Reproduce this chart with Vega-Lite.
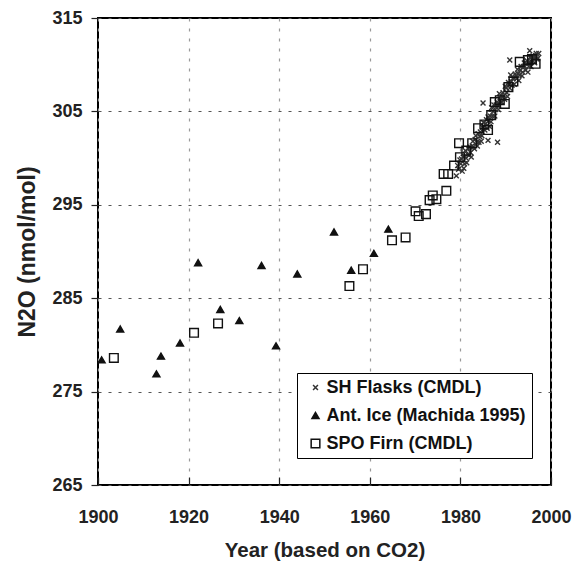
{
  "$schema": "https://vega.github.io/schema/vega-lite/v6.json",
  "width": 453,
  "height": 467,
  "autosize": {"type": "none"},
  "padding": {"left": 98, "top": 18, "right": 21, "bottom": 80},
  "background": "white",
  "config": {
    "view": {"stroke": "black", "strokeWidth": 2},
    "font": "Liberation Sans",
    "axis": {
      "labelFont": "Liberation Sans",
      "labelFontWeight": "bold",
      "labelFontSize": 18,
      "labelColor": "#222",
      "labelFlush": false,
      "titleFont": "Liberation Sans",
      "titleFontWeight": "bold",
      "titleColor": "#222",
      "domain": false,
      "tickColor": "#222",
      "tickWidth": 1.2
    },
    "legend": {
      "labelFont": "Liberation Sans",
      "labelFontWeight": "bold",
      "labelFontSize": 18,
      "labelColor": "#111",
      "labelLimit": 400
    }
  },
  "data": {
    "values": [
      {"series": "SH Flasks (CMDL)", "year": 1979.1, "n2o": 298.1},
      {"series": "SH Flasks (CMDL)", "year": 1979.4, "n2o": 299.2},
      {"series": "SH Flasks (CMDL)", "year": 1979.6, "n2o": 298.8},
      {"series": "SH Flasks (CMDL)", "year": 1979.9, "n2o": 299.8},
      {"series": "SH Flasks (CMDL)", "year": 1980.1, "n2o": 299.4},
      {"series": "SH Flasks (CMDL)", "year": 1980.25, "n2o": 299.9},
      {"series": "SH Flasks (CMDL)", "year": 1980.4, "n2o": 298.6},
      {"series": "SH Flasks (CMDL)", "year": 1980.6, "n2o": 300.1},
      {"series": "SH Flasks (CMDL)", "year": 1980.75, "n2o": 298.9},
      {"series": "SH Flasks (CMDL)", "year": 1980.9, "n2o": 299.4},
      {"series": "SH Flasks (CMDL)", "year": 1981.1, "n2o": 300.8},
      {"series": "SH Flasks (CMDL)", "year": 1981.25, "n2o": 300.0},
      {"series": "SH Flasks (CMDL)", "year": 1981.4, "n2o": 299.5},
      {"series": "SH Flasks (CMDL)", "year": 1981.6, "n2o": 300.4},
      {"series": "SH Flasks (CMDL)", "year": 1981.75, "n2o": 301.0},
      {"series": "SH Flasks (CMDL)", "year": 1981.9, "n2o": 300.3},
      {"series": "SH Flasks (CMDL)", "year": 1982.1, "n2o": 301.2},
      {"series": "SH Flasks (CMDL)", "year": 1982.25, "n2o": 300.6},
      {"series": "SH Flasks (CMDL)", "year": 1982.4, "n2o": 300.1},
      {"series": "SH Flasks (CMDL)", "year": 1982.6, "n2o": 301.3},
      {"series": "SH Flasks (CMDL)", "year": 1982.75, "n2o": 301.8},
      {"series": "SH Flasks (CMDL)", "year": 1982.9, "n2o": 301.2},
      {"series": "SH Flasks (CMDL)", "year": 1983.1, "n2o": 301.0},
      {"series": "SH Flasks (CMDL)", "year": 1983.25, "n2o": 302.0},
      {"series": "SH Flasks (CMDL)", "year": 1983.4, "n2o": 302.4},
      {"series": "SH Flasks (CMDL)", "year": 1983.6, "n2o": 301.7},
      {"series": "SH Flasks (CMDL)", "year": 1983.75, "n2o": 301.3},
      {"series": "SH Flasks (CMDL)", "year": 1983.9, "n2o": 302.6},
      {"series": "SH Flasks (CMDL)", "year": 1984.1, "n2o": 301.7},
      {"series": "SH Flasks (CMDL)", "year": 1984.25, "n2o": 302.3},
      {"series": "SH Flasks (CMDL)", "year": 1984.4, "n2o": 302.8},
      {"series": "SH Flasks (CMDL)", "year": 1984.6, "n2o": 301.8},
      {"series": "SH Flasks (CMDL)", "year": 1984.75, "n2o": 302.4},
      {"series": "SH Flasks (CMDL)", "year": 1984.9, "n2o": 303.3},
      {"series": "SH Flasks (CMDL)", "year": 1985.1, "n2o": 303.8},
      {"series": "SH Flasks (CMDL)", "year": 1985.25, "n2o": 303.4},
      {"series": "SH Flasks (CMDL)", "year": 1985.4, "n2o": 303.0},
      {"series": "SH Flasks (CMDL)", "year": 1985.6, "n2o": 303.7},
      {"series": "SH Flasks (CMDL)", "year": 1985.75, "n2o": 304.1},
      {"series": "SH Flasks (CMDL)", "year": 1985.9, "n2o": 303.2},
      {"series": "SH Flasks (CMDL)", "year": 1986.1, "n2o": 304.4},
      {"series": "SH Flasks (CMDL)", "year": 1986.25, "n2o": 304.0},
      {"series": "SH Flasks (CMDL)", "year": 1986.4, "n2o": 303.4},
      {"series": "SH Flasks (CMDL)", "year": 1986.6, "n2o": 304.5},
      {"series": "SH Flasks (CMDL)", "year": 1986.75, "n2o": 303.9},
      {"series": "SH Flasks (CMDL)", "year": 1986.9, "n2o": 305.4},
      {"series": "SH Flasks (CMDL)", "year": 1987.1, "n2o": 304.5},
      {"series": "SH Flasks (CMDL)", "year": 1987.25, "n2o": 305.0},
      {"series": "SH Flasks (CMDL)", "year": 1987.4, "n2o": 305.7},
      {"series": "SH Flasks (CMDL)", "year": 1987.6, "n2o": 304.5},
      {"series": "SH Flasks (CMDL)", "year": 1987.75, "n2o": 305.2},
      {"series": "SH Flasks (CMDL)", "year": 1987.9, "n2o": 305.7},
      {"series": "SH Flasks (CMDL)", "year": 1988.1, "n2o": 306.0},
      {"series": "SH Flasks (CMDL)", "year": 1988.25, "n2o": 305.6},
      {"series": "SH Flasks (CMDL)", "year": 1988.4, "n2o": 305.2},
      {"series": "SH Flasks (CMDL)", "year": 1988.6, "n2o": 306.9},
      {"series": "SH Flasks (CMDL)", "year": 1988.75, "n2o": 306.5},
      {"series": "SH Flasks (CMDL)", "year": 1988.9, "n2o": 306.0},
      {"series": "SH Flasks (CMDL)", "year": 1989.1, "n2o": 306.0},
      {"series": "SH Flasks (CMDL)", "year": 1989.25, "n2o": 306.5},
      {"series": "SH Flasks (CMDL)", "year": 1989.4, "n2o": 307.0},
      {"series": "SH Flasks (CMDL)", "year": 1989.6, "n2o": 306.7},
      {"series": "SH Flasks (CMDL)", "year": 1989.75, "n2o": 306.3},
      {"series": "SH Flasks (CMDL)", "year": 1989.9, "n2o": 307.7},
      {"series": "SH Flasks (CMDL)", "year": 1990.1, "n2o": 307.5},
      {"series": "SH Flasks (CMDL)", "year": 1990.25, "n2o": 307.0},
      {"series": "SH Flasks (CMDL)", "year": 1990.4, "n2o": 306.6},
      {"series": "SH Flasks (CMDL)", "year": 1990.6, "n2o": 308.1},
      {"series": "SH Flasks (CMDL)", "year": 1990.75, "n2o": 307.9},
      {"series": "SH Flasks (CMDL)", "year": 1990.9, "n2o": 307.5},
      {"series": "SH Flasks (CMDL)", "year": 1991.1, "n2o": 308.9},
      {"series": "SH Flasks (CMDL)", "year": 1991.25, "n2o": 308.2},
      {"series": "SH Flasks (CMDL)", "year": 1991.4, "n2o": 307.8},
      {"series": "SH Flasks (CMDL)", "year": 1991.6, "n2o": 308.5},
      {"series": "SH Flasks (CMDL)", "year": 1991.75, "n2o": 308.6},
      {"series": "SH Flasks (CMDL)", "year": 1991.9, "n2o": 307.9},
      {"series": "SH Flasks (CMDL)", "year": 1992.1, "n2o": 309.0},
      {"series": "SH Flasks (CMDL)", "year": 1992.25, "n2o": 308.8},
      {"series": "SH Flasks (CMDL)", "year": 1992.4, "n2o": 308.5},
      {"series": "SH Flasks (CMDL)", "year": 1992.6, "n2o": 309.5},
      {"series": "SH Flasks (CMDL)", "year": 1992.75, "n2o": 309.0},
      {"series": "SH Flasks (CMDL)", "year": 1992.9, "n2o": 308.3},
      {"series": "SH Flasks (CMDL)", "year": 1993.1, "n2o": 308.9},
      {"series": "SH Flasks (CMDL)", "year": 1993.25, "n2o": 309.4},
      {"series": "SH Flasks (CMDL)", "year": 1993.4, "n2o": 309.8},
      {"series": "SH Flasks (CMDL)", "year": 1993.6, "n2o": 308.8},
      {"series": "SH Flasks (CMDL)", "year": 1993.75, "n2o": 309.2},
      {"series": "SH Flasks (CMDL)", "year": 1993.9, "n2o": 309.8},
      {"series": "SH Flasks (CMDL)", "year": 1994.1, "n2o": 310.2},
      {"series": "SH Flasks (CMDL)", "year": 1994.25, "n2o": 309.8},
      {"series": "SH Flasks (CMDL)", "year": 1994.4, "n2o": 309.4},
      {"series": "SH Flasks (CMDL)", "year": 1994.6, "n2o": 310.1},
      {"series": "SH Flasks (CMDL)", "year": 1994.75, "n2o": 310.4},
      {"series": "SH Flasks (CMDL)", "year": 1994.9, "n2o": 309.2},
      {"series": "SH Flasks (CMDL)", "year": 1995.1, "n2o": 309.8},
      {"series": "SH Flasks (CMDL)", "year": 1995.25, "n2o": 310.3},
      {"series": "SH Flasks (CMDL)", "year": 1995.4, "n2o": 310.8},
      {"series": "SH Flasks (CMDL)", "year": 1995.6, "n2o": 309.8},
      {"series": "SH Flasks (CMDL)", "year": 1995.75, "n2o": 310.3},
      {"series": "SH Flasks (CMDL)", "year": 1995.9, "n2o": 310.9},
      {"series": "SH Flasks (CMDL)", "year": 1996.1, "n2o": 310.9},
      {"series": "SH Flasks (CMDL)", "year": 1996.25, "n2o": 310.6},
      {"series": "SH Flasks (CMDL)", "year": 1996.4, "n2o": 310.2},
      {"series": "SH Flasks (CMDL)", "year": 1996.6, "n2o": 311.0},
      {"series": "SH Flasks (CMDL)", "year": 1996.75, "n2o": 311.2},
      {"series": "SH Flasks (CMDL)", "year": 1996.9, "n2o": 310.6},
      {"series": "SH Flasks (CMDL)", "year": 1997.1, "n2o": 310.7},
      {"series": "SH Flasks (CMDL)", "year": 1997.3, "n2o": 311.2},
      {"series": "SH Flasks (CMDL)", "year": 1986.1, "n2o": 301.9},
      {"series": "SH Flasks (CMDL)", "year": 1988.2, "n2o": 301.7},
      {"series": "SH Flasks (CMDL)", "year": 1985.0, "n2o": 305.9},
      {"series": "SH Flasks (CMDL)", "year": 1995.3, "n2o": 311.5},
      {"series": "SH Flasks (CMDL)", "year": 1990.9, "n2o": 310.5},
      {"series": "Ant. Ice (Machida 1995)", "year": 1900.8, "n2o": 278.4},
      {"series": "Ant. Ice (Machida 1995)", "year": 1904.9, "n2o": 281.7},
      {"series": "Ant. Ice (Machida 1995)", "year": 1912.9, "n2o": 276.9},
      {"series": "Ant. Ice (Machida 1995)", "year": 1913.9, "n2o": 278.8},
      {"series": "Ant. Ice (Machida 1995)", "year": 1918.1, "n2o": 280.2},
      {"series": "Ant. Ice (Machida 1995)", "year": 1922.1, "n2o": 288.8},
      {"series": "Ant. Ice (Machida 1995)", "year": 1927.0, "n2o": 283.8},
      {"series": "Ant. Ice (Machida 1995)", "year": 1931.2, "n2o": 282.6},
      {"series": "Ant. Ice (Machida 1995)", "year": 1936.1, "n2o": 288.5},
      {"series": "Ant. Ice (Machida 1995)", "year": 1939.3, "n2o": 279.9},
      {"series": "Ant. Ice (Machida 1995)", "year": 1944.0, "n2o": 287.6},
      {"series": "Ant. Ice (Machida 1995)", "year": 1952.1, "n2o": 292.1},
      {"series": "Ant. Ice (Machida 1995)", "year": 1955.9, "n2o": 288.0},
      {"series": "Ant. Ice (Machida 1995)", "year": 1960.9, "n2o": 289.8},
      {"series": "Ant. Ice (Machida 1995)", "year": 1964.1, "n2o": 292.4},
      {"series": "SPO Firn (CMDL)", "year": 1903.5, "n2o": 278.6},
      {"series": "SPO Firn (CMDL)", "year": 1921.2, "n2o": 281.3},
      {"series": "SPO Firn (CMDL)", "year": 1926.5, "n2o": 282.3},
      {"series": "SPO Firn (CMDL)", "year": 1955.5, "n2o": 286.3},
      {"series": "SPO Firn (CMDL)", "year": 1958.5, "n2o": 288.1},
      {"series": "SPO Firn (CMDL)", "year": 1964.9, "n2o": 291.2},
      {"series": "SPO Firn (CMDL)", "year": 1967.9, "n2o": 291.5},
      {"series": "SPO Firn (CMDL)", "year": 1970.1, "n2o": 294.3},
      {"series": "SPO Firn (CMDL)", "year": 1970.8, "n2o": 293.8},
      {"series": "SPO Firn (CMDL)", "year": 1972.4, "n2o": 294.0},
      {"series": "SPO Firn (CMDL)", "year": 1973.2, "n2o": 295.5},
      {"series": "SPO Firn (CMDL)", "year": 1973.9, "n2o": 296.0},
      {"series": "SPO Firn (CMDL)", "year": 1974.7, "n2o": 295.6},
      {"series": "SPO Firn (CMDL)", "year": 1976.9, "n2o": 296.5},
      {"series": "SPO Firn (CMDL)", "year": 1976.3, "n2o": 298.3},
      {"series": "SPO Firn (CMDL)", "year": 1977.3, "n2o": 298.3},
      {"series": "SPO Firn (CMDL)", "year": 1978.6, "n2o": 299.2},
      {"series": "SPO Firn (CMDL)", "year": 1979.9, "n2o": 300.1},
      {"series": "SPO Firn (CMDL)", "year": 1979.7, "n2o": 301.6},
      {"series": "SPO Firn (CMDL)", "year": 1981.3, "n2o": 300.8},
      {"series": "SPO Firn (CMDL)", "year": 1982.6, "n2o": 301.6},
      {"series": "SPO Firn (CMDL)", "year": 1983.9, "n2o": 303.2},
      {"series": "SPO Firn (CMDL)", "year": 1985.3, "n2o": 303.6},
      {"series": "SPO Firn (CMDL)", "year": 1986.1, "n2o": 303.0},
      {"series": "SPO Firn (CMDL)", "year": 1986.8, "n2o": 304.6},
      {"series": "SPO Firn (CMDL)", "year": 1987.6, "n2o": 306.0},
      {"series": "SPO Firn (CMDL)", "year": 1988.7, "n2o": 306.2},
      {"series": "SPO Firn (CMDL)", "year": 1989.8, "n2o": 305.8},
      {"series": "SPO Firn (CMDL)", "year": 1990.6, "n2o": 307.6},
      {"series": "SPO Firn (CMDL)", "year": 1991.7, "n2o": 308.2},
      {"series": "SPO Firn (CMDL)", "year": 1993.1, "n2o": 310.3},
      {"series": "SPO Firn (CMDL)", "year": 1994.9, "n2o": 310.5},
      {"series": "SPO Firn (CMDL)", "year": 1995.8, "n2o": 310.6},
      {"series": "SPO Firn (CMDL)", "year": 1996.6, "n2o": 310.1}
    ]
  },
  "mark": {"type": "point", "filled": false, "strokeWidth": 1.4, "opacity": 1, "clip": false},
  "encoding": {
    "x": {
      "field": "year",
      "type": "quantitative",
      "scale": {"domain": [1900, 2000], "nice": false, "zero": false},
      "axis": {
        "values": [1900, 1920, 1940, 1960, 1980, 2000],
        "format": "d",
        "title": "Year (based on CO2)",
        "titleFontSize": 20.5,
        "titlePadding": 14,
        "tickSize": -8,
        "labelPadding": 31,
        "grid": true,
        "gridDash": [3, 7],
        "gridColor": "#999",
        "gridWidth": 1.2
      }
    },
    "y": {
      "field": "n2o",
      "type": "quantitative",
      "scale": {"domain": [265, 315], "nice": false, "zero": false},
      "axis": {
        "values": [265, 275, 285, 295, 305, 315],
        "title": "N2O (nmol/mol)",
        "titleFontSize": 23,
        "titlePadding": 12,
        "tickSize": 7,
        "labelPadding": 9,
        "grid": true,
        "gridDash": [3, 7],
        "gridColor": "#555",
        "gridWidth": 1.2
      }
    },
    "shape": {
      "field": "series",
      "type": "nominal",
      "scale": {
        "domain": ["SH Flasks (CMDL)", "Ant. Ice (Machida 1995)", "SPO Firn (CMDL)"],
        "range": ["M-1,-1L1,1M-1,1L1,-1", "triangle-up", "square"]
      },
      "legend": {
        "title": null,
        "orient": "none",
        "legendX": 199,
        "legendY": 355,
        "strokeColor": "black",
        "fillColor": "white",
        "padding": 5.5,
        "rowPadding": 10,
        "symbolOffset": 4,
        "labelOffset": 2
      }
    },
    "fill": {
      "field": "series",
      "type": "nominal",
      "scale": {
        "domain": ["SH Flasks (CMDL)", "Ant. Ice (Machida 1995)", "SPO Firn (CMDL)"],
        "range": ["transparent", "#111", "transparent"]
      }
    },
    "stroke": {
      "field": "series",
      "type": "nominal",
      "scale": {
        "domain": ["SH Flasks (CMDL)", "Ant. Ice (Machida 1995)", "SPO Firn (CMDL)"],
        "range": ["#333", "#111", "#111"]
      }
    },
    "size": {
      "field": "series",
      "type": "nominal",
      "scale": {
        "domain": ["SH Flasks (CMDL)", "Ant. Ice (Machida 1995)", "SPO Firn (CMDL)"],
        "range": [24, 75, 62]
      }
    }
  }
}
